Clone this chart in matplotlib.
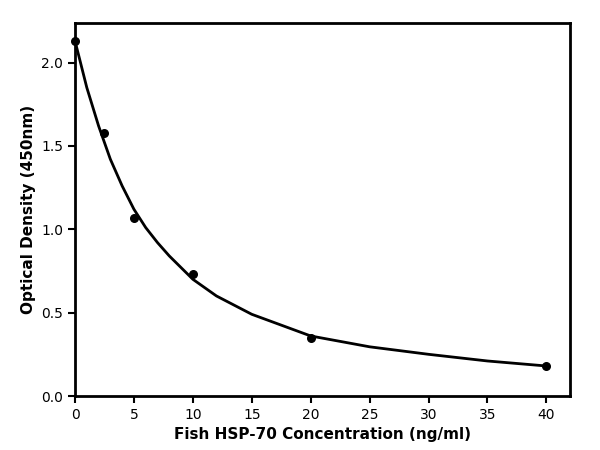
import matplotlib
matplotlib.use('Agg')
import matplotlib.pyplot as plt

# measured points
conc = [0, 2.5, 5, 10, 20, 40]
od = [2.13, 1.58, 1.07, 0.73, 0.35, 0.18]

# fitted curve
curve_x = [0, 1, 2, 3, 4, 5, 6, 7, 8, 10, 12, 15, 20, 25, 30, 35, 40]
curve_y = [2.13, 1.85, 1.62, 1.42, 1.26, 1.12, 1.01, 0.92, 0.84, 0.70, 0.60,
           0.49, 0.36, 0.295, 0.25, 0.21, 0.18]

fig, ax = plt.subplots(figsize=(6, 4.5), dpi=100)
ax.plot(curve_x, curve_y, color='black', lw=2)
ax.scatter(conc, od, color='black', s=30, zorder=3, clip_on=False)

ax.set_xlim(0, 42)
ax.set_ylim(0, 2.24)
ax.set_xticks(range(0, 41, 5))
ax.set_yticks([0, 0.5, 1.0, 1.5, 2.0])
ax.set_xlabel('Fish HSP-70 Concentration (ng/ml)', fontsize=11, fontweight='bold')
ax.set_ylabel('Optical Density (450nm)', fontsize=11, fontweight='bold')
for s in ax.spines.values():
    s.set_linewidth(2)
ax.tick_params(width=1.5, length=5, labelsize=10)

plt.subplots_adjust(left=0.125, right=0.95, top=0.95, bottom=0.12)
plt.savefig('out.png')
